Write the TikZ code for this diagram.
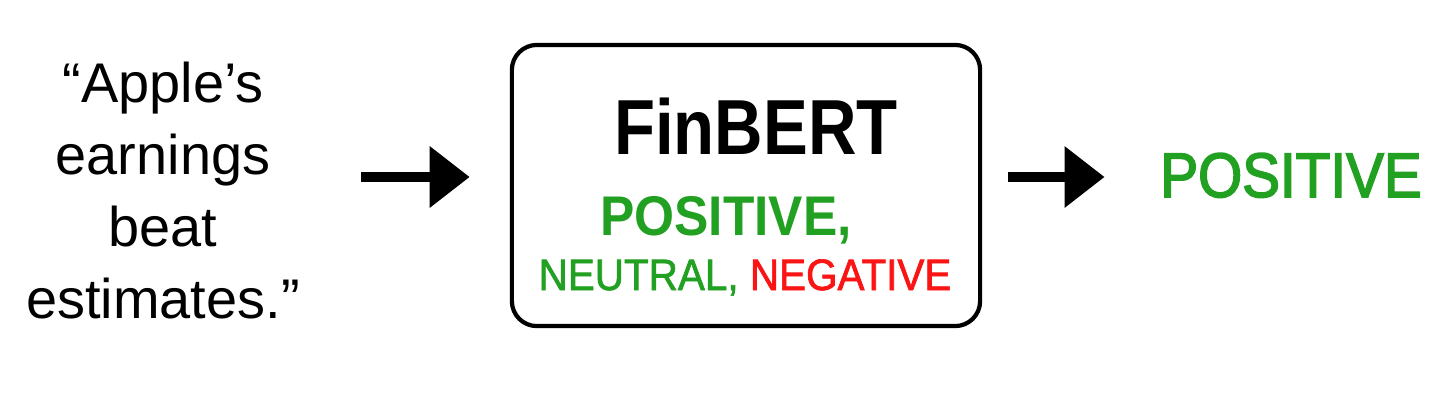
\documentclass[tikz,border=0pt]{standalone}
\usepackage{fontspec}
\setmainfont{Liberation Sans}
\newfontfamily\finfont[FakeStretch=0.86]{Liberation Sans}
\newfontfamily\boxfont[FakeStretch=0.92]{Liberation Sans}
\newfontfamily\smallfont[FakeStretch=0.92, FakeBold=1.5]{Liberation Sans}
\newfontfamily\outfont[FakeStretch=0.9, FakeBold=2.5]{Liberation Sans}
\usetikzlibrary{arrows.meta, positioning}
\definecolor{posgreen}{RGB}{34,160,34}
\definecolor{negred}{RGB}{250,20,20}

\begin{document}
\begin{tikzpicture}[x=0.01cm, y=-0.01cm,
        t/.style={inner sep=0, anchor=base},
        arr/.style={line width=0.1cm, -{Triangle[length=0.4cm, width=0.59cm]}}]
        \useasboundingbox (0,0) rectangle (1447,402);
        \coordinate (lvl) at (0,177);

        \draw node[inner sep=0, anchor=north, align=center,
                font=\fontsize{15.9}{20.5}\selectfont] (quote) at (163,61)
                {“Apple’s\\earnings\\beat\\estimates.”};

        \draw node[draw, line width=1.2pt, rounded corners=0.25cm,
                minimum width=4.68cm, minimum height=2.81cm] (finbert) at (746,185.5) {};
        \draw node[t, font=\finfont\bfseries\fontsize{22.2}{26}\selectfont] (fin) at (756,154) {FinBERT};
        \draw node[t, text=posgreen, font=\boxfont\bfseries\fontsize{15.9}{19}\selectfont] (cls1) at (726,235) {POSITIVE,};
        \draw node[t, text=posgreen, font=\smallfont\fontsize{12.5}{15}\selectfont] (cls2) at (745,290)
                {NEUTRAL, \textcolor{negred}{NEGATIVE}};

        \draw node[t, text=posgreen, font=\outfont\fontsize{17.9}{21}\selectfont] (out) at (1291,197) {POSITIVE};

        \draw[arr, shorten <=0.61cm, shorten >=0.40cm] (quote.east |- lvl) -- (finbert.west |- lvl);
        \draw[arr, shorten <=0.26cm, shorten >=0.55cm] (finbert.east |- lvl) -- (out.west |- lvl);
\end{tikzpicture}
\end{document}
